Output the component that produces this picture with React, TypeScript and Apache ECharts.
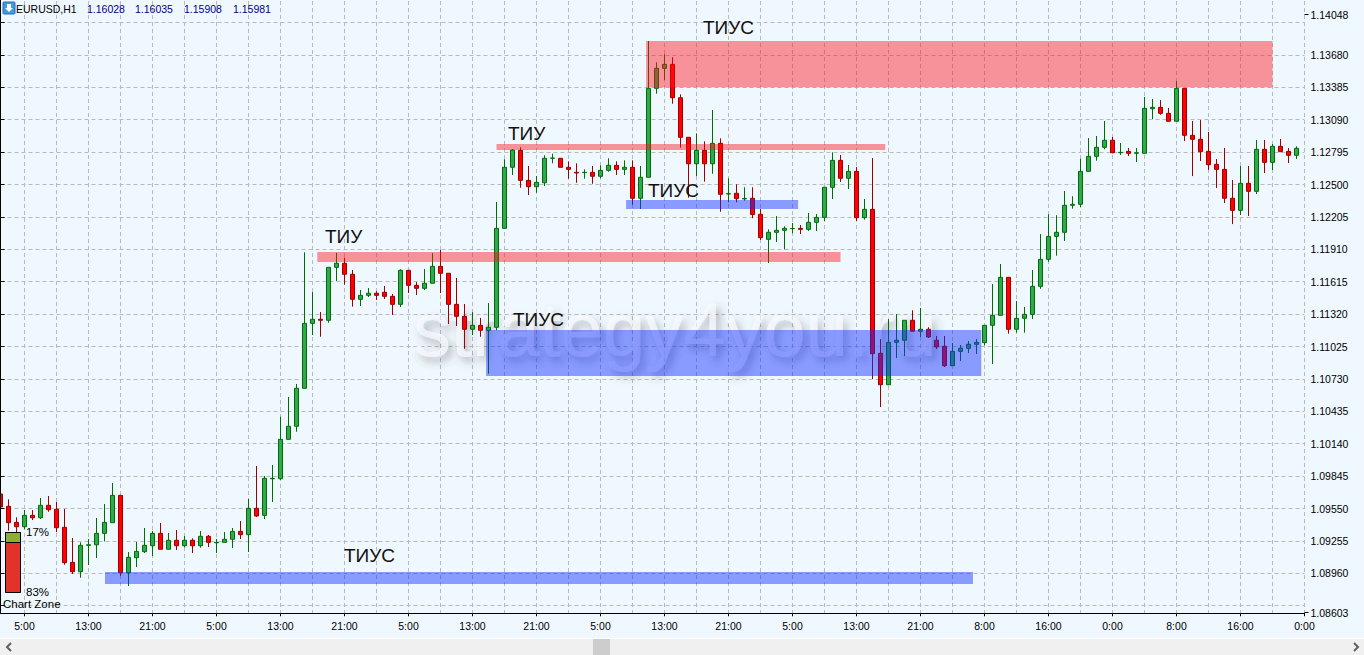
import React, { useEffect, useRef } from "react";
import * as echarts from "echarts";

// Candle prices in 1/100000 of a point, one entry per hourly bar, left to right.
const opens = [
  109682,109570,109424,109384,109488,109466,109579,109543,109379,109060,
  108975,109215,109220,109324,109421,109670,108965,109102,109157,109211,
  109324,109179,109261,109211,109261,109211,109297,109238,109242,109270,
  109342,109312,109552,109488,109821,109821,110180,110299,110645,111236,
  111273,111264,111746,111783,111683,111455,111491,111510,111519,111482,
  111409,111719,111582,111555,111601,111755,111692,111409,111300,111182,
  111218,111173,111200,112101,112657,112811,112538,112480,112516,112739,
  112739,112657,112611,112608,112611,112575,112629,112675,112638,112657,
  112375,112566,113376,113558,113594,113290,112930,112689,112811,112689,
  112875,112414,112420,112369,112375,112229,112001,112065,112083,112098,
  112101,112092,112156,112201,112475,112720,112557,112620,112198,112274,
  110963,110677,111063,111082,111264,111164,111182,111082,111027,110850,
  110981,111009,111045,111060,111218,111309,111655,111182,111282,111318,
  111573,111819,112028,112065,112311,112320,112620,112757,112839,112903,
  112790,112802,112785,112784,113190,113203,113148,113076,113376,112948,
  112912,112802,112684,112638,112375,112265,112511,112438,112821,112702,
  112848,112802,112766,
];
const closes = [
  109564,109421,109384,109488,109466,109579,109539,109375,109057,108975,
  109215,109220,109324,109424,109670,108965,109106,109160,109215,109324,
  109179,109261,109211,109261,109211,109297,109242,109241,109270,109342,
  109312,109552,109482,109825,109825,110180,110299,110645,111236,111273,
  111264,111746,111783,111683,111455,111491,111510,111491,111482,111409,
  111719,111582,111555,111601,111755,111692,111409,111300,111182,111218,
  111173,111200,112101,112657,112814,112538,112480,112520,112739,112741,
  112657,112638,112605,112611,112575,112629,112675,112638,112657,112375,
  112566,113376,113558,113594,113290,112930,112689,112811,112689,112875,
  112411,112417,112371,112373,112227,112016,112065,112083,112101,112100,
  112092,112156,112201,112475,112720,112557,112620,112198,112274,110960,
  110677,111063,111082,111264,111164,111182,111112,111021,110850,110981,
  111009,111045,111063,111218,111309,111655,111182,111282,111318,111573,
  111819,112028,112065,112311,112320,112620,112757,112839,112903,112790,
  112793,112784,112789,113194,113203,113148,113076,113376,112948,112912,
  112799,112680,112638,112375,112265,112511,112438,112821,112702,112848,
  112799,112766,112830,
];
const lows = [
  109555,109348,109275,109361,109445,109455,109521,109336,109038,108954,
  108920,109036,109099,109251,109421,108935,108844,109017,109145,109118,
  109179,109179,109172,109197,109145,109193,109200,109145,109242,109190,
  109272,109154,109473,109455,109609,109810,110180,110249,110645,111130,
  111114,111242,111622,111588,111388,111394,111476,111449,111458,111312,
  111385,111512,111494,111540,111601,111512,111230,111212,111005,111130,
  111114,110778,111173,112101,112587,112471,112405,112425,112486,112693,
  112657,112553,112516,112553,112507,112557,112617,112587,112587,112316,
  112277,112566,113327,113452,113236,112835,112380,112577,112526,112598,
  112252,112338,112338,112353,112193,111995,111785,111977,111910,112056,
  112049,112077,112077,112168,112368,112523,112459,112168,112180,110729,
  110474,110677,110920,110939,111164,111112,111103,111002,110838,110850,
  110893,110966,110957,111036,110866,111309,111142,111151,111151,111275,
  111551,111797,111852,111986,112280,112295,112620,112717,112821,112784,
  112769,112760,112705,112784,113096,113136,113076,113076,112896,112577,
  112714,112632,112468,112332,112140,112222,112213,112414,112605,112632,
  112799,112696,112732,
];
const highs = [
  109700,109634,109470,109536,109536,109646,109664,109609,109546,109282,
  109242,109272,109464,109591,109782,109670,109154,109245,109373,109345,
  109418,109327,109354,109300,109279,109345,109309,109272,109336,109373,
  109436,109637,109937,109846,109946,110386,110565,110684,111883,111521,
  111339,111746,111879,111834,111722,111540,111558,111528,111576,111503,
  111728,111719,111612,111731,111876,111904,111692,111649,111412,111339,
  111285,111421,112341,112730,112823,112839,112669,112577,112766,112781,
  112739,112711,112693,112638,112669,112675,112739,112711,112720,112720,
  112669,113807,113613,113686,113658,113321,112930,112966,112893,113178,
  112921,112557,112502,112475,112475,112277,112092,112213,112120,112150,
  112131,112241,112231,112475,112793,112769,112678,112659,112368,112741,
  111093,111275,111321,111264,111355,111376,111200,111121,111121,111057,
  111039,111075,111093,111218,111594,111776,111655,111439,111385,111722,
  112049,112229,112220,112441,112393,112735,112923,112942,113078,112933,
  112878,112832,112832,113297,113279,113269,113197,113442,113376,113078,
  113087,112978,112732,112832,112541,112669,112669,112905,112905,112869,
  112914,112832,112848,
];

// Zones: first bar, last bar (fractional bar numbers), low price, high price.
const redZones = [
  [80.7, 159.0, 1.13385, 1.13807],
  [62.0, 110.6, 1.12814, 1.12869],
  [39.6, 105.0, 1.11795, 1.11886],
];
const blueZones = [
  [60.7, 122.6, 1.10757, 1.11175],
  [78.2, 99.7, 1.12277, 1.12359],
  [13.06, 121.56, 1.08863, 1.08972],
];

const zoneLabels = ["ТИУС", "ТИУ", "ТИУС", "ТИУ", "ТИУС", "ТИУС"];
const watermark = "strategy4you.ru";
const watermarkAnchor = [[51.56, 1.11176]];

const gridLevels = [
  1.08665, 1.0896, 1.09255, 1.0955, 1.09845, 1.1014, 1.10435, 1.1073, 1.11025, 1.1132,
  1.11615, 1.1191, 1.12205, 1.125, 1.12795, 1.1309, 1.13385, 1.1368, 1.13975,
];
const priceLabels = [
  1.08603, 1.0896, 1.09255, 1.0955, 1.09845, 1.1014, 1.10435, 1.1073, 1.11025, 1.1132,
  1.11615, 1.1191, 1.12205, 1.125, 1.12795, 1.1309, 1.13385, 1.1368, 1.14048,
];
const extremeLabels = [1.08603, 1.14048];

const quote = ["1.16028", "1.16035", "1.15908", "1.15981"];

const barCount = opens.length;
const hourOfBar = (k: number) => (k <= 116 ? (2 + k) % 24 : (8 + k - 123 + 48) % 24);
const categories = Array.from({ length: barCount + 1 }, (_, k) => `${hourOfBar(k)}:00`);

const FONT = '"Liberation Sans", Arial, sans-serif';
const BG = "#f0f8ff";
const GRID = "#bababa";
const PMIN = 1.08596;
const PMAX = 1.14171;

function zoneItem(color: string) {
  return (_: any, api: any) => {
    const a = api.coord([api.value(0), api.value(3)]);
    const b = api.coord([api.value(1), api.value(2)]);
    return {
      type: "rect",
      shape: { x: a[0], y: a[1], width: b[0] - a[0], height: b[1] - a[1] },
      style: { fill: color },
    };
  };
}

function watermarkItem(_: any, api: any) {
  const p = api.coord([api.value(0), api.value(1)]);
  return {
    type: "text",
    x: p[0],
    y: p[1],
    style: {
      text: watermark,
      font: `76px ${FONT}`,
      fill: "rgba(250,252,255,0.6)",
      verticalAlign: "middle",
      textVerticalAlign: "middle",
      textShadowBlur: 8,
      textShadowColor: "rgba(70,70,70,0.62)",
      textShadowOffsetX: 4,
      textShadowOffsetY: 5,
    },
  };
}

function txt(x: number, y: number, text: string, font: string, fill = "#000", extra: any = {}) {
  return { type: "text", x, y, silent: true, z: 10, style: { text, font, fill, textVerticalAlign: "middle", ...extra } };
}

export default function App() {
  const ref = useRef<HTMLDivElement>(null);
  useEffect(() => {
    document.body.style.margin = "0";
    const chart = echarts.init(ref.current!, null, { renderer: "svg" });
    chart.setOption({
      animation: false,
      backgroundColor: BG,
      grid: { left: 0.5, top: 1, width: 1304, height: 612.3, containLabel: false },
      xAxis: [
        {
          type: "category",
          data: categories,
          boundaryGap: false,
          axisLine: { lineStyle: { color: "#000", width: 1 } },
          axisTick: { length: 3, interval: (i: number) => i % 8 === 3, lineStyle: { color: "#000" } },
          axisLabel: {
            interval: (i: number) => i % 8 === 3,
            color: "#000",
            fontFamily: FONT,
            fontSize: 10.5,
            margin: 7,
          },
          splitLine: {
            show: true,
            interval: (i: number) => i % 4 === 3,
            lineStyle: { color: GRID, type: [4, 3], width: 1 },
          },
        },
        { type: "value", min: 0, max: barCount, show: false },
      ],
      yAxis: [
        {
          type: "value",
          position: "right",
          min: PMIN,
          max: PMAX,
          axisLine: { show: true, lineStyle: { color: "#000", width: 1 } },
          axisTick: { show: true, customValues: gridLevels, length: 4, lineStyle: { color: "#000" } },
          axisLabel: {
            customValues: priceLabels,
            formatter: (v: number) => v.toFixed(5),
            color: "#000",
            fontFamily: FONT,
            fontSize: 10.5,
            margin: 6,
            padding: [0, 0, 2, 0],
          },
          splitLine: { show: true, lineStyle: { color: GRID, type: [4, 3], width: 1 } },
        },
        {
          type: "value",
          position: "right",
          min: PMIN,
          max: PMAX,
          axisLine: { show: false },
          axisTick: { show: true, customValues: extremeLabels, length: 4, lineStyle: { color: "#000" } },
          axisLabel: { show: false },
          splitLine: { show: false },
        },
      ],
      series: [
        {
          type: "custom",
          xAxisIndex: 1,
          yAxisIndex: 0,
          z: 1,
          silent: true,
          renderItem: watermarkItem,
          encode: { x: 0, y: 1 },
          data: watermarkAnchor,
        },
        {
          type: "candlestick",
          barWidth: 4,
          z: 3,
          data: opens.map((o, i) => [o / 1e5, closes[i] / 1e5, lows[i] / 1e5, highs[i] / 1e5]),
          itemStyle: {
            color: "#2fa850",
            color0: "#ff0000",
            borderColor: "#006f00",
            borderColor0: "#9c0000",
            borderWidth: 1,
          },
        },
        {
          type: "custom",
          xAxisIndex: 1,
          yAxisIndex: 0,
          z: 4,
          renderItem: zoneItem("rgba(255,15,25,0.44)"),
          encode: { x: [0, 1], y: [2, 3] },
          data: redZones,
        },
        {
          type: "custom",
          xAxisIndex: 1,
          yAxisIndex: 0,
          z: 4,
          renderItem: zoneItem("rgba(15,45,255,0.46)"),
          encode: { x: [0, 1], y: [2, 3] },
          data: blueZones,
        },
      ],
      graphic: [
        { type: "line", z: 10, shape: { x1: 0.5, y1: 0, x2: 0.5, y2: 613 }, style: { stroke: "#000", lineWidth: 1 } },
        // zone captions
        txt(703, 27, zoneLabels[0], `19px ${FONT}`, "#111"),
        txt(508, 133, zoneLabels[1], `19px ${FONT}`, "#111"),
        txt(648, 190, zoneLabels[2], `19px ${FONT}`, "#111"),
        txt(325, 236, zoneLabels[3], `19px ${FONT}`, "#111"),
        txt(513, 319, zoneLabels[4], `19px ${FONT}`, "#111"),
        txt(344, 555, zoneLabels[5], `19px ${FONT}`, "#111"),
        // header
        { type: "rect", z: 10, shape: { x: 3, y: 2, width: 12, height: 12, r: 1 }, style: { fill: "#3f9ae0", stroke: "#2a6db0", lineWidth: 1 } },
        { type: "polygon", z: 11, shape: { points: [[7, 4], [11, 4], [11, 8], [13, 8], [9, 12], [5, 8], [7, 8]] }, style: { fill: "#fff" } },
        txt(16, 8.5, "EURUSD,H1", `10.5px ${FONT}`, "#000"),
        txt(87, 8.5, quote[0], `10.5px ${FONT}`, "#00008b"),
        txt(135, 8.5, quote[1], `10.5px ${FONT}`, "#00008b"),
        txt(184, 8.5, quote[2], `10.5px ${FONT}`, "#00008b"),
        txt(233, 8.5, quote[3], `10.5px ${FONT}`, "#00008b"),
        // chart-zone gauge
        { type: "rect", z: 10, shape: { x: 5.5, y: 532.5, width: 15, height: 60 }, style: { fill: "#e2332a", stroke: "#000", lineWidth: 1 } },
        { type: "rect", z: 11, shape: { x: 5.5, y: 532.5, width: 15, height: 10 }, style: { fill: "#8fae32", stroke: "#000", lineWidth: 1 } },
        txt(26, 532, "17%", `11.5px ${FONT}`),
        txt(26, 592, "83%", `11.5px ${FONT}`),
        txt(3, 604, "Chart Zone", `11.5px ${FONT}`),
        // scrollbar
        { type: "rect", z: 10, shape: { x: 0, y: 638, width: 1364, height: 1 }, style: { fill: "#ffffff" } },
        { type: "rect", z: 10, shape: { x: 0, y: 639, width: 1364, height: 16 }, style: { fill: "#f0f0f0" } },
        { type: "rect", z: 11, shape: { x: 593, y: 639, width: 17, height: 16 }, style: { fill: "#cdcdcd" } },
        { type: "polyline", z: 11, shape: { points: [[11, 643], [7, 647], [11, 651]] }, style: { stroke: "#606060", lineWidth: 2, fill: "none" } },
        { type: "polyline", z: 11, shape: { points: [[1354, 643], [1358, 647], [1354, 651]] }, style: { stroke: "#606060", lineWidth: 2, fill: "none" } },
      ],
    });
    return () => chart.dispose();
  }, []);
  return <div ref={ref} style={{ width: 1364, height: 655 }} />;
}
